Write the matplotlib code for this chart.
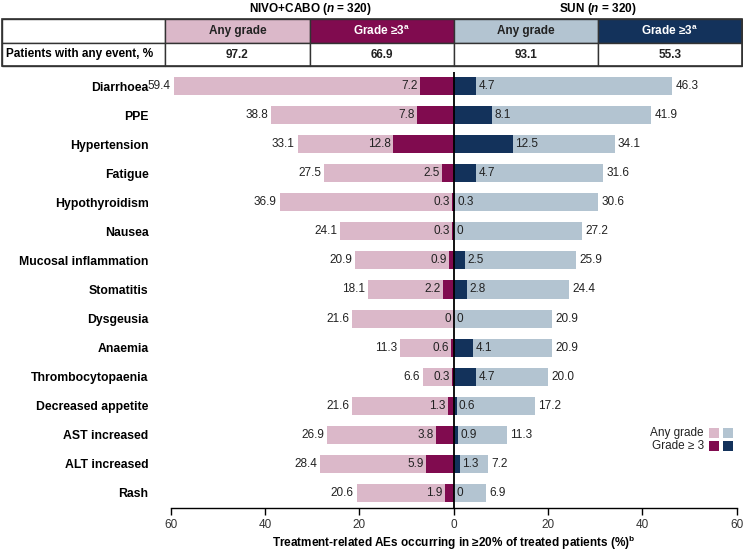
import matplotlib
matplotlib.use("Agg")
import matplotlib.pyplot as plt
from matplotlib.patches import Rectangle

plt.rcParams['font.family'] = ['Liberation Sans', 'DejaVu Sans']
plt.rcParams['mathtext.fontset'] = 'custom'
plt.rcParams['mathtext.rm'] = 'Liberation Sans:bold'
plt.rcParams['mathtext.it'] = 'Liberation Sans:italic:bold'
plt.rcParams['mathtext.bf'] = 'Liberation Sans:bold'

# data
events = ['Diarrhoea', 'PPE', 'Hypertension', 'Fatigue', 'Hypothyroidism', 'Nausea',
          'Mucosal inflammation', 'Stomatitis', 'Dysgeusia', 'Anaemia',
          'Thrombocytopaenia', 'Decreased appetite', 'AST increased', 'ALT increased', 'Rash']
nc_any = [59.4, 38.8, 33.1, 27.5, 36.9, 24.1, 20.9, 18.1, 21.6, 11.3, 6.6, 21.6, 26.9, 28.4, 20.6]
nc_g3 = [7.2, 7.8, 12.8, 2.5, 0.3, 0.3, 0.9, 2.2, 0, 0.6, 0.3, 1.3, 3.8, 5.9, 1.9]
sun_any = [46.3, 41.9, 34.1, 31.6, 30.6, 27.2, 25.9, 24.4, 20.9, 20.9, 20.0, 17.2, 11.3, 7.2, 6.9]
sun_g3 = [4.7, 8.1, 12.5, 4.7, 0.3, 0, 2.5, 2.8, 0, 4.1, 4.7, 0.6, 0.9, 1.3, 0]
any_event = [97.2, 66.9, 93.1, 55.3]
ticks = [-60, -40, -20, 0, 20, 40, 60]

pink = '#dbb8c9'
maroon = '#800b4f'
lblue = '#b3c4d1'
navy = '#13325b'

def fmt(v):
    return '0' if v == 0 else f'{v:.1f}'

fig = plt.figure(figsize=(7.43, 5.52), dpi=100)

# overlay in pixel coords for table + legend
ov = fig.add_axes([0, 0, 1, 1])
ov.set_xlim(0, 743)
ov.set_ylim(552, 0)
ov.axis('off')

ax = fig.add_axes([170.7 / 743, (552 - 507.5) / 552, 566 / 743, 436 / 552])
y = list(range(len(events)))
h = 0.62
ax.barh(y, [-v for v in nc_any], height=h, color=pink)
ax.barh(y, [-v for v in nc_g3], height=h, color=maroon)
ax.barh(y, sun_any, height=h, color=lblue)
ax.barh(y, sun_g3, height=h, color=navy)
ax.axvline(0, color='black', lw=1.3)

fs = 8.5
for i in y:
    ax.text(-nc_any[i] - 0.6, i, fmt(nc_any[i]), ha='right', va='center', fontsize=fs, color='#222222')
    ax.text(-nc_g3[i] - 0.5, i, fmt(nc_g3[i]), ha='right', va='center', fontsize=fs, color='#222222')
    ax.text(sun_g3[i] + 0.5, i, fmt(sun_g3[i]), ha='left', va='center', fontsize=fs, color='#222222')
    ax.text(sun_any[i] + 0.7, i, fmt(sun_any[i]), ha='left', va='center', fontsize=fs, color='#222222')

ax.set_xlim(-60, 60)
ax.set_ylim(14.5, -0.5)
ax.set_yticks(y)
ax.set_yticklabels(events, fontsize=8.8, fontweight='bold')
ax.tick_params(axis='y', length=0, pad=16)
ax.set_xticks(ticks)
ax.set_xticklabels([str(abs(t)) for t in ticks], fontsize=fs, color='#333333')
ax.tick_params(axis='x', length=5, width=1, direction='out')
for s in ['top', 'left', 'right']:
    ax.spines[s].set_visible(False)
ax.spines['bottom'].set_linewidth(1)
ax.set_xlabel(r'Treatment-related AEs occurring in ≥20% of treated patients (%)$^{\mathregular{b}}$',
              fontsize=fs, fontweight='bold', labelpad=2)
ax.patch.set_visible(False)

# header table
cols = [1.5, 165, 310, 454, 598, 741.5]
top, mid, bot = 19, 43, 66
head_fill = ['white', pink, maroon, lblue, navy]
head_txt = ['', 'Any grade', r'Grade ≥3$^{\mathregular{a}}$', 'Any grade', r'Grade ≥3$^{\mathregular{a}}$']
head_col = ['black', '#222222', 'white', '#222222', 'white']
for k in range(5):
    ov.add_patch(Rectangle((cols[k], top), cols[k + 1] - cols[k], mid - top,
                           facecolor=head_fill[k], edgecolor='#333333', lw=1))
    ov.add_patch(Rectangle((cols[k], mid), cols[k + 1] - cols[k], bot - mid,
                           facecolor='white', edgecolor='#333333', lw=1))
    cx = (cols[k] + cols[k + 1]) / 2
    ov.text(cx, (top + mid) / 2, head_txt[k], ha='center', va='center', fontsize=fs,
            fontweight='bold', color=head_col[k])
    if k > 0:
        ov.text(cx, (mid + bot) / 2, fmt(any_event[k - 1]), ha='center', va='center',
                fontsize=fs, fontweight='bold', color='#222222')
ov.text(6, (mid + bot) / 2, 'Patients with any event, %', ha='left', va='center',
        fontsize=fs, fontweight='bold', color='black')
ov.add_patch(Rectangle((cols[0], top), cols[-1] - cols[0], bot - top, fill=False,
                       edgecolor='#333333', lw=1.2))
ov.text(310, 9, r'NIVO+CABO ($n$ = 320)', ha='center', va='center', fontsize=fs, fontweight='bold')
ov.text(598, 9, r'SUN ($n$ = 320)', ha='center', va='center', fontsize=fs, fontweight='bold')

# legend
ov.text(704, 433, 'Any grade', ha='right', va='center', fontsize=fs, color='#222222')
ov.text(704, 446, 'Grade ≥ 3', ha='right', va='center', fontsize=fs, color='#222222')
for cx, c in [(709, pink), (723, lblue)]:
    ov.add_patch(Rectangle((cx, 428), 10, 10, facecolor=c))
for cx, c in [(709, maroon), (723, navy)]:
    ov.add_patch(Rectangle((cx, 441), 10, 10, facecolor=c))

fig.savefig('out.png', dpi=100)
